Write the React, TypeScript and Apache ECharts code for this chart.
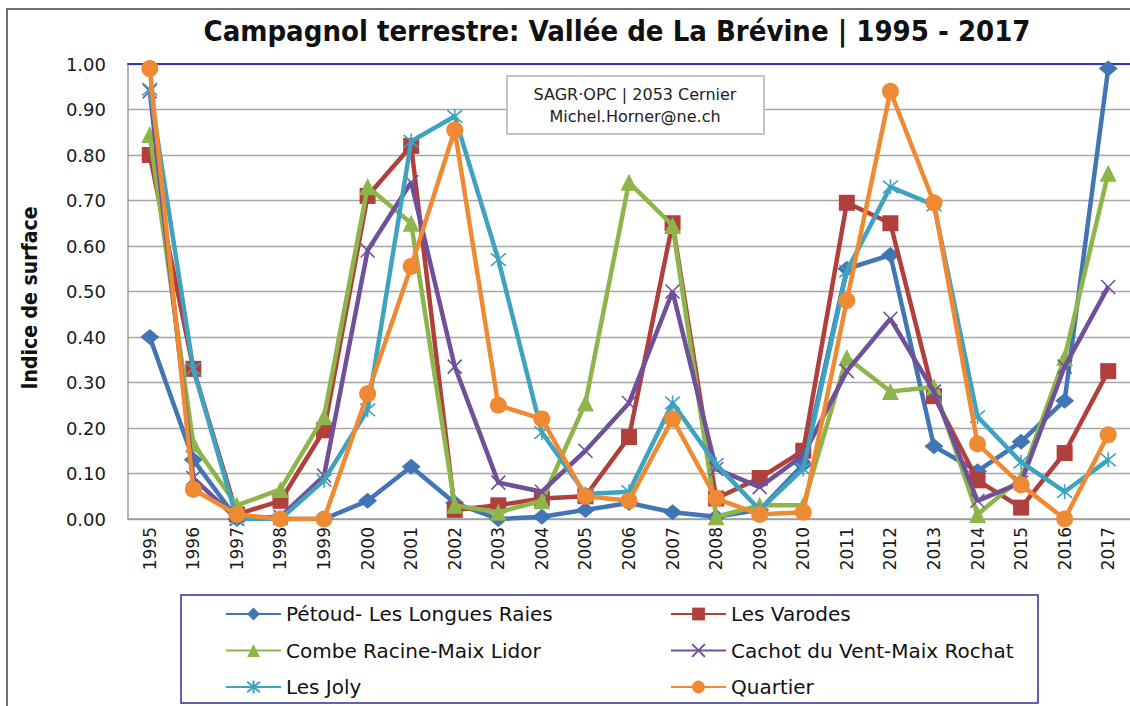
import React, { useEffect, useRef } from "react";
import * as echarts from "echarts";

const years = ["1995","1996","1997","1998","1999","2000","2001","2002","2003","2004","2005","2006","2007","2008","2009","2010","2011","2012","2013","2014","2015","2016","2017"];

const petoud = [0.40, 0.13, 0.00, 0.00, 0.00, 0.04, 0.115, 0.035, 0.00, 0.005, 0.02, 0.035, 0.015, 0.005, 0.02, 0.12, 0.55, 0.58, 0.16, 0.105, 0.17, 0.26, 0.99];
const varodes = [0.80, 0.33, 0.01, 0.04, 0.195, 0.71, 0.82, 0.02, 0.03, 0.045, 0.05, 0.18, 0.65, 0.045, 0.09, 0.15, 0.695, 0.65, 0.27, 0.085, 0.025, 0.145, 0.325];
const combe = [0.845, 0.165, 0.03, 0.065, 0.225, 0.73, 0.65, 0.03, 0.015, 0.04, 0.255, 0.74, 0.645, 0.005, 0.03, 0.03, 0.355, 0.28, 0.29, 0.01, 0.09, 0.355, 0.76];
const cachot = [0.94, 0.09, 0.00, 0.005, 0.095, 0.59, 0.74, 0.335, 0.08, 0.06, 0.15, 0.255, 0.50, 0.11, 0.07, 0.14, 0.325, 0.44, 0.28, 0.04, 0.08, 0.335, 0.51];
const joly = [0.945, 0.33, 0.00, 0.00, 0.085, 0.24, 0.83, 0.885, 0.57, 0.19, 0.055, 0.06, 0.255, 0.12, 0.02, 0.11, 0.545, 0.73, 0.69, 0.225, 0.125, 0.06, 0.13];
const quartier = [0.99, 0.065, 0.01, 0.00, 0.00, 0.275, 0.555, 0.855, 0.25, 0.22, 0.05, 0.04, 0.22, 0.045, 0.01, 0.015, 0.48, 0.94, 0.695, 0.165, 0.075, 0.00, 0.185];

const names = ["Pétoud- Les Longues Raies", "Les Varodes", "Combe Racine-Maix Lidor", "Cachot du Vent-Maix Rochat", "Les Joly", "Quartier"];
const colors = ["#4275b5", "#b13f3c", "#8db54a", "#70509a", "#3fa3bf", "#ee8a34"];

const titleText = "Campagnol terrestre: Vallée de La Brévine | 1995 - 2017";
const yTitle = "Indice de surface";
const noteLines = ["SAGR·OPC | 2053 Cernier", "Michel.Horner@ne.ch"];

const NARROW = "'Liberation Sans Narrow', 'DejaVu Sans Condensed', sans-serif";
const WIDE = "'DejaVu Sans', Verdana, sans-serif";

export default function App() {
  const ref = useRef<HTMLDivElement>(null);
  useEffect(() => {
    const chart = echarts.init(ref.current!, null, { renderer: "svg" });
    const xPath = "path://M0,0L20,20M20,0L0,20";
    const starPath = "path://M0,0L20,20M20,0L0,20M10,-2L10,22";
    const mk = (i: number, data: number[], symbol: string, size: number | number[], stroke = false) => ({
      name: names[i],
      type: "line",
      data,
      symbol,
      symbolSize: size,
      showSymbol: true,
      z: 2 + i,
      lineStyle: { color: colors[i], width: 4.5 },
      itemStyle: stroke
        ? { color: colors[i], borderColor: colors[i], borderWidth: 1.6 }
        : { color: colors[i], borderWidth: 0 },
      emphasis: { disabled: true },
    });
    const legendBase = {
      orient: "vertical",
      top: 604,
      padding: 0,
      itemWidth: 55,
      itemHeight: 16,
      itemGap: 16.5,
      textStyle: { fontFamily: WIDE, fontSize: 20, color: "#111" },
      selectedMode: false,
    };
    const option = {
      animation: false,
      backgroundColor: "#ffffff",
      grid: { left: 128, right: -7, top: 64, bottom: 187, containLabel: false },
      xAxis: [
        {
          type: "category",
          data: years,
          boundaryGap: true,
          axisLine: { show: true, lineStyle: { color: "#9a9a9a", width: 1.5 } },
          axisTick: { show: false },
          axisLabel: {
            rotate: 90,
            margin: 8,
            color: "#1a1a1a",
            fontFamily: WIDE,
            fontSize: 17,
          },
          splitLine: { show: false },
        },
        {
          type: "category",
          data: years,
          position: "top",
          boundaryGap: true,
          axisLine: { show: true, lineStyle: { color: "#3b3ba6", width: 1.8 } },
          axisTick: { show: false },
          axisLabel: { show: false },
        },
      ],
      yAxis: {
        type: "value",
        min: 0,
        max: 1,
        interval: 0.1,
        axisLine: { show: true, lineStyle: { color: "#9a9a9a", width: 1.5 } },
        axisTick: { show: false },
        axisLabel: {
          margin: 22,
          color: "#1a1a1a",
          fontFamily: WIDE,
          fontSize: 18,
          formatter: (v: number) => v.toFixed(2),
        },
        splitLine: { show: true, lineStyle: { color: "#a6a6a6", width: 1.3 } },
      },
      legend: [
        { ...legendBase, data: [names[0], names[2], names[4]], left: 225 },
        { ...legendBase, data: [names[1], names[3], names[5]], left: 670 },
      ],
      graphic: [
        {
          type: "rect",
          shape: { x: 7, y: 9, width: 1140, height: 720 },
          style: { fill: "none", stroke: "#444", lineWidth: 1.5 },
          z: 0,
          silent: true,
        },
        {
          type: "text",
          x: 617,
          y: 31,
          style: {
            text: titleText,
            font: `bold 29px ${NARROW}`,
            fill: "#111",
            textAlign: "center",
            textVerticalAlign: "middle",
          },
        },
        {
          type: "text",
          x: 30,
          y: 298,
          rotation: Math.PI / 2,
          style: {
            text: yTitle,
            font: `bold 21px ${NARROW}`,
            fill: "#111",
            textAlign: "center",
            textVerticalAlign: "middle",
          },
        },
        {
          type: "rect",
          shape: { x: 181, y: 595, width: 857, height: 108 },
          style: { fill: "none", stroke: "#2f2f9c", lineWidth: 1.5 },
          silent: true,
        },
        {
          type: "group",
          z: 100,
          children: [
            {
              type: "rect",
              shape: { x: 507, y: 76, width: 257, height: 58 },
              style: { fill: "#fff", stroke: "#c4c4c4", lineWidth: 2 },
              z: 100,
            },
            {
              type: "text",
              x: 635,
              y: 94,
              z: 101,
              style: { text: noteLines[0], font: `16px ${WIDE}`, fill: "#222", textAlign: "center", textVerticalAlign: "middle" },
            },
            {
              type: "text",
              x: 635,
              y: 116,
              z: 101,
              style: { text: noteLines[1], font: `16px ${WIDE}`, fill: "#222", textAlign: "center", textVerticalAlign: "middle" },
            },
          ],
        },
      ],
      series: [
        mk(0, petoud, "diamond", [19, 16]),
        mk(1, varodes, "rect", 16),
        mk(2, combe, "triangle", 17),
        mk(3, cachot, xPath, 14, true),
        mk(4, joly, starPath, 15, true),
        mk(5, quartier, "circle", 17),
      ],
    };
    chart.setOption(option as any);
    return () => chart.dispose();
  }, []);
  return (
    <div
      ref={ref}
      style={{ position: "absolute", left: 0, top: 0, width: 1130, height: 706, background: "#fff" }}
    />
  );
}
